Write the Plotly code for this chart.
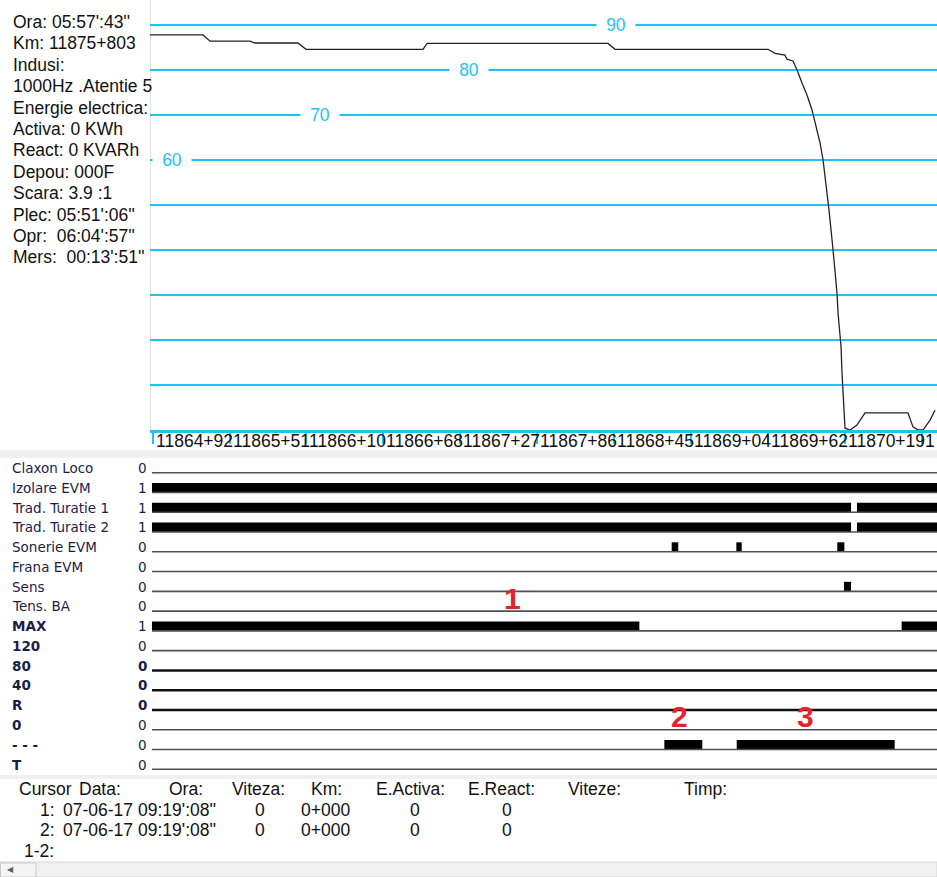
import plotly.graph_objects as go

W, H = 937, 877

# ---------------- data ----------------
speed_km = [11864.901, 11865.304, 11865.320, 11865.358, 11865.662, 11865.700, 11866.027,
            11866.088, 11866.979, 11867.009, 11868.386, 11868.440, 11869.604, 11869.657,
            11869.733, 11869.749, 11869.794, 11869.825, 11869.863, 11869.901, 11869.939,
            11870.000, 11870.023, 11870.053, 11870.068, 11870.099, 11870.129, 11870.137,
            11870.160, 11870.167, 11870.175, 11870.190, 11870.228, 11870.281, 11870.342,
            11870.669, 11870.707, 11870.746, 11870.784, 11870.837, 11870.875]
speed_kmh = [87.8, 87.8, 87.4, 86.4, 86.4, 86.0, 86.0,
             84.6, 84.6, 85.9, 85.9, 84.6, 84.6, 83.7,
             83.3, 82.4, 82.0, 80.0, 77.1, 74.4, 71.1,
             63.8, 60.0, 53.3, 48.9, 40.0, 30.4, 26.0,
             18.4, 12.7, 8.2, 0.4, 0.0, 1.1, 3.8,
             3.8, 0.7, 0.0, 0.0, 2.2, 4.4]

km_range = [11864.901, 11870.890]
km_tick_pos = [11864.920, 11865.506, 11866.091, 11866.677, 11867.262, 11867.848,
               11868.434, 11869.019, 11869.605, 11870.190, 11870.776]
km_tick_text = ["11864+92", "11865+51", "11866+10", "11866+68", "11867+27", "11867+86",
                "11868+45", "11869+04", "11869+62", "11870+19", "1"]

grid_speeds = [0, 10, 20, 30, 40, 50, 60, 70, 80, 90]
grid_label_speeds = [90, 80, 70, 60]
grid_label_km = [11868.447, 11867.329, 11866.195, 11865.068]

signal_names = ["Claxon Loco", "Izolare EVM", "Trad. Turatie 1", "Trad. Turatie 2",
                "Sonerie EVM", "Frana EVM", "Sens", "Tens. BA", "MAX", "120", "80",
                "40", "R", "0", "- - -", "T"]
signal_states = ["0", "1", "1", "1", "0", "0", "0", "0", "1", "0", "0", "0", "0", "0", "0", "0"]
signal_start = 11864.916
signal_end = 11870.890
signal_on = [
    [],
    [(11864.916, 11870.890)],
    [(11864.916, 11870.236), (11870.281, 11870.890)],
    [(11864.916, 11870.236), (11870.281, 11870.890)],
    [(11868.871, 11868.921), (11869.363, 11869.404), (11870.131, 11870.185)],
    [],
    [(11870.182, 11870.236)],
    [],
    [(11864.916, 11868.625), (11870.621, 11870.890)],
    [], [], [], [], [],
    [(11868.815, 11869.104), (11869.366, 11870.568)],
    [],
]

marker_labels = ["1", "2", "3"]
marker_km = [11867.656, 11868.934, 11869.886]
marker_level = [8.66, 2.69, 2.69]

info_lines = ["Ora: 05:57':43''", "Km: 11875+803", "Indusi:", "1000Hz .Atentie 5",
              "Energie electrica:", "Activa: 0 KWh", "React: 0 KVARh", "Depou: 000F",
              "Scara: 3.9 :1", "Plec: 05:51':06''", "Opr:  06:04':57''", "Mers:  00:13':51''"]

table_header = ["Cursor", "Data:", "Ora:", "Viteza:", "Km:", "E.Activa:", "E.React:", "Viteze:", "Timp:"]
table_row1 = ["1:", "07-06-17", "09:19':08''", "0", "0+000", "0", "0"]
table_row2 = ["2:", "07-06-17", "09:19':08''", "0", "0+000", "0", "0"]
table_row3 = ["1-2:"]

# ---------------- style ----------------
CYAN = "#1EC3F5"
TXT = "Liberation Sans, Arial, sans-serif"
TS = 17.5
SANS = "DejaVu Sans, Verdana, sans-serif"


def px(x):
    return x / W


def py(y):
    return 1 - y / H


n = len(signal_names)
levels = [n - 1 - i for i in range(n)]

fig = go.Figure()

# speed line
fig.add_trace(go.Scatter(x=speed_km, y=speed_kmh, mode="lines",
                         line=dict(color="#222222", width=1.3),
                         xaxis="x", yaxis="y", hoverinfo="skip"))

# signal baselines
for i, lv in enumerate(levels):
    thick = signal_names[i] in ("80", "40", "R")
    fig.add_trace(go.Scatter(x=[signal_start, signal_end], y=[lv, lv], mode="lines",
                             line=dict(color="#111111" if thick else "#505050",
                                       width=2.6 if thick else 1.6),
                             xaxis="x2", yaxis="y2", hoverinfo="skip"))

# signal "on" bars
bar_y, bar_base, bar_len = [], [], []
for i, lv in enumerate(levels):
    for (a, b) in signal_on[i]:
        bar_y.append(lv + 0.24)
        bar_base.append(a)
        bar_len.append(b - a)
fig.add_trace(go.Bar(y=bar_y, x=bar_len, base=bar_base, orientation="h", width=0.48,
                     marker=dict(color="#000000", line=dict(width=0)),
                     xaxis="x2", yaxis="y2", hoverinfo="skip"))

annotations = []
# grid labels
for s, k in zip(grid_label_speeds, grid_label_km):
    annotations.append(dict(x=k, y=s, xref="x", yref="y", text=str(s), showarrow=False,
                            font=dict(family=TXT, size=TS, color=CYAN),
                            bgcolor="white", width=36, height=18))
# km tick labels
for k, t in zip(km_tick_pos, km_tick_text):
    annotations.append(dict(x=k, y=py(441), xref="x", yref="paper", text=t, showarrow=False,
                            xanchor="left", xshift=1, yanchor="middle",
                            font=dict(family=TXT, size=TS, color="#111111")))
# info text
for i, t in enumerate(info_lines):
    annotations.append(dict(x=px(11), y=py(22 + i * 21.4), xref="paper", yref="paper", text=t,
                            showarrow=False, xanchor="left", yanchor="middle",
                            font=dict(family=TXT, size=TS, color="#111111")))
# signal labels
for i, lv in enumerate(levels):
    bold = i >= 8
    name = signal_names[i]
    annotations.append(dict(x=px(10), y=lv + 0.24, xref="paper", yref="y2",
                            text=("<b>%s</b>" % name) if bold else name, showarrow=False,
                            xanchor="left", yanchor="middle",
                            font=dict(family=SANS, size=13.5, color="#1c1c4a")))
    sb = name in ("80", "40", "R")
    annotations.append(dict(x=px(142), y=lv + 0.24, xref="paper", yref="y2",
                            text=("<b>%s</b>" % signal_states[i]) if sb else signal_states[i],
                            showarrow=False, xanchor="center", yanchor="middle",
                            font=dict(family=SANS, size=13.5, color="#1c1c4a")))
# red markers
for t, k, lv in zip(marker_labels, marker_km, marker_level):
    annotations.append(dict(x=k, y=lv, xref="x2", yref="y2", text="<b>%s</b>" % t,
                            showarrow=False, xanchor="center", yanchor="middle",
                            font=dict(family="Liberation Sans, Arial, sans-serif", size=30,
                                      color="#E8222B")))
# table
hdr_x = [17, 77, 167, 230, 309, 374, 466, 566, 682]
for t, x in zip(table_header, hdr_x):
    annotations.append(dict(x=px(x), y=py(789), xref="paper", yref="paper", text=t,
                            showarrow=False, xanchor="left", yanchor="middle",
                            font=dict(family=TXT, size=TS, color="#111111")))
row_x = [38, 61, 136, 253, 299, 408, 500]
for row, yy in ((table_row1, 810), (table_row2, 830)):
    for t, x in zip(row, row_x):
        annotations.append(dict(x=px(x), y=py(yy), xref="paper", yref="paper", text=t,
                                showarrow=False, xanchor="left", yanchor="middle",
                                font=dict(family=TXT, size=TS, color="#111111")))
annotations.append(dict(x=px(22), y=py(851), xref="paper", yref="paper", text=table_row3[0],
                        showarrow=False, xanchor="left", yanchor="middle",
                        font=dict(family=TXT, size=TS, color="#111111")))
annotations.append(dict(x=px(10), y=py(869.5), xref="paper", yref="paper", text="◀",
                        showarrow=False, xanchor="center", yanchor="middle",
                        font=dict(family=SANS, size=8, color="#606060")))

shapes = [
    dict(type="rect", xref="paper", yref="paper", x0=0, x1=1, y0=py(458), y1=py(450),
         fillcolor="#f0f0f0", line=dict(width=0), layer="below"),
    dict(type="rect", xref="paper", yref="paper", x0=0, x1=1, y0=py(779), y1=py(775),
         fillcolor="#f0f0f0", line=dict(width=0), layer="below"),
    dict(type="line", xref="paper", yref="paper", x0=px(150.5), x1=px(150.5), y0=py(430), y1=1,
         line=dict(color="#e2e2e2", width=1), layer="below"),
    dict(type="rect", xref="paper", yref="paper", x0=0, x1=1, y0=0, y1=py(862),
         fillcolor="#f0f0f0", line=dict(color="#d6d6d6", width=1), layer="above"),
    dict(type="rect", xref="paper", yref="paper", x0=px(0.5), x1=px(36), y0=0, y1=py(863),
         fillcolor="#f4f4f4", line=dict(color="#c8c8c8", width=1), layer="above"),
]

fig.update_layout(
    width=W, height=H, margin=dict(l=0, r=0, t=0, b=0),
    paper_bgcolor="white", plot_bgcolor="rgba(0,0,0,0)", showlegend=False,
    barmode="overlay",
    xaxis=dict(domain=[px(150), 1], range=km_range, anchor="y", showgrid=False, zeroline=False,
               showline=True, linecolor=CYAN, linewidth=3, ticks="outside", ticklen=11,
               tickwidth=2, tickcolor=CYAN, tickmode="array", tickvals=km_tick_pos,
               ticktext=[" " for _ in km_tick_pos], showticklabels=True,
               tickfont=dict(size=1), fixedrange=True),
    yaxis=dict(domain=[py(430), 1], range=[0, 430 / 4.5], anchor="x", tickvals=grid_speeds,
               showticklabels=False, showgrid=True, gridcolor=CYAN, gridwidth=2,
               zeroline=False, showline=False, ticks="", fixedrange=True),
    xaxis2=dict(domain=[px(150), 1], matches="x", anchor="y2", visible=False, fixedrange=True),
    yaxis2=dict(domain=[py(780), py(455)], range=[-0.541, 15.895], anchor="x2", visible=False,
                fixedrange=True),
    annotations=annotations, shapes=shapes,
)

fig.write_html("out.html", config={"displayModeBar": False},
               post_script="document.body.style.margin='0px';document.body.style.overflow='hidden';")
